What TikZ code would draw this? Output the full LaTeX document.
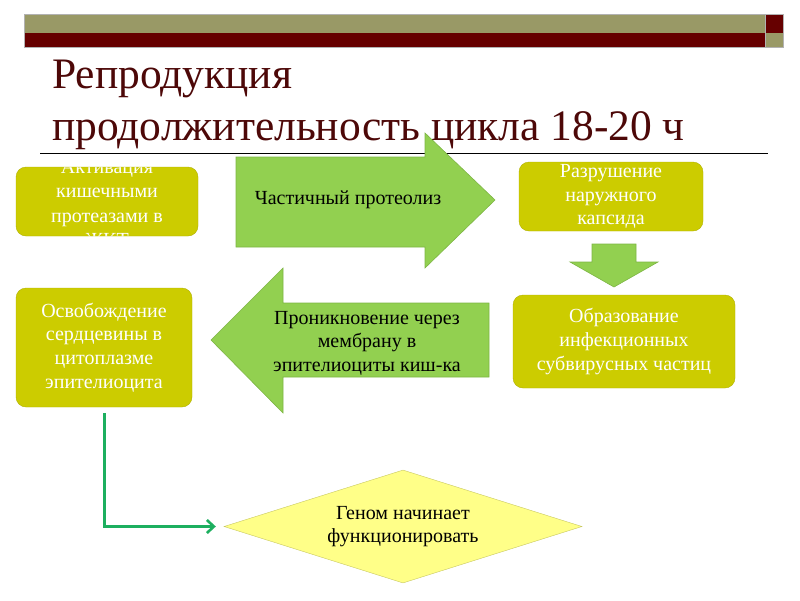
\documentclass[tikz,border=0pt]{standalone}
\usepackage{fontspec}
\setmainfont{Liberation Serif}
\usetikzlibrary{shapes.geometric,arrows.meta}
\definecolor{olv}{HTML}{999966}
\definecolor{dred}{HTML}{660000}
\definecolor{ttl}{HTML}{4D0808}
\definecolor{boxf}{HTML}{CCCC00}
\definecolor{boxd}{HTML}{B0B000}
\definecolor{grn}{HTML}{92D050}
\definecolor{grnd}{HTML}{7DB544}
\definecolor{dmf}{HTML}{FFFF88}
\definecolor{dmd}{HTML}{C8C860}
\definecolor{conn}{HTML}{1DAF5F}
\tikzset{
  box/.style={draw=boxd, fill=boxf, rounded corners=10pt, text=white, align=center, font=\fontsize{20}{23.8}\selectfont, inner sep=0pt},
  arr/.style={draw=grnd, fill=grn, line width=0.6pt},
  lbl/.style={align=center, font=\fontsize{20}{23.5}\selectfont, text=black},
  ttlstyle/.style={anchor=base west, text=ttl, font=\fontsize{43.5}{48}\selectfont, inner sep=0pt},
  connline/.style={draw=conn, line width=3pt, -{Straight Barb[length=7pt,width=13pt,line width=2.6pt]}},
}
\begin{document}
\begin{tikzpicture}[x=1pt,y=-1pt]
\useasboundingbox (0,0) rectangle (800,600);
% header bars
\fill[olv] (24,14) rectangle (765,33);
\fill[dred] (24,33) rectangle (765,47);
\fill[dred] (765,14) rectangle (783,33);
\fill[olv] (765,33) rectangle (783,47);
\draw[gray!60, line width=0.4pt] (24,14) rectangle (783,47);
\draw[gray!60, line width=0.4pt] (765,14) -- (765,47);
% title
\node[ttlstyle] (t1) at (52,88) {Репродукция};
\node[ttlstyle] (t2) at (52,140) {продолжительность цикла 18-20 ч};
\draw[black, line width=0.6pt] (40,153) -- (768,153);
% arrow 1 (right)
\draw[arr] (236,157) -- (425,157) -- (425,133) -- (495,200) -- (425,268) -- (425,247) -- (236,247) -- cycle;
\node[lbl] (a1) at (348,200) {Частичный протеолиз};
% arrow 2 (left)
\draw[arr] (489,303) -- (283,303) -- (283,268) -- (211,340) -- (283,413) -- (283,377) -- (489,377) -- cycle;
\node[lbl] (a2) at (367,343) {Проникновение через\\мембрану в\\эпителиоциты киш-ка};
% down arrow
\draw[arr] (592,244) -- (636,244) -- (636,262) -- (658,262) -- (614,287) -- (570,262) -- (592,262) -- cycle;
% boxes
\node[box, minimum width=182pt, minimum height=69pt,
  path picture={\node[text=white, align=center, font=\fontsize{20}{24.5}\selectfont] at ([yshift=-2pt]path picture bounding box.center) {Активация\\кишечными\\протеазами в\\ЖКТ};}] (b1) at (107,201.5) {};
\node[box, minimum width=184pt, minimum height=69pt] (b2) at (611,196.5) {Разрушение\\наружного\\капсида};
\node[box, minimum width=222pt, minimum height=93pt] (b3) at (624,341.5) {Образование\\инфекционных\\субвирусных частиц};
\node[box, minimum width=176pt, minimum height=119pt] (b4) at (104,347.5) {Освобождение\\сердцевины в\\цитоплазме\\эпителиоцита};
% diamond
\node[diamond, draw=dmd, fill=dmf, aspect=3.17, minimum width=358pt, minimum height=113pt, inner sep=0pt, align=center, font=\fontsize{20}{23}\selectfont] (g) at (403,526.5) {Геном начинает\\функционировать};
% connector
\draw[connline, shorten <=6pt, shorten >=8pt] (b4.south) |- (g.west);
\end{tikzpicture}
\end{document}
